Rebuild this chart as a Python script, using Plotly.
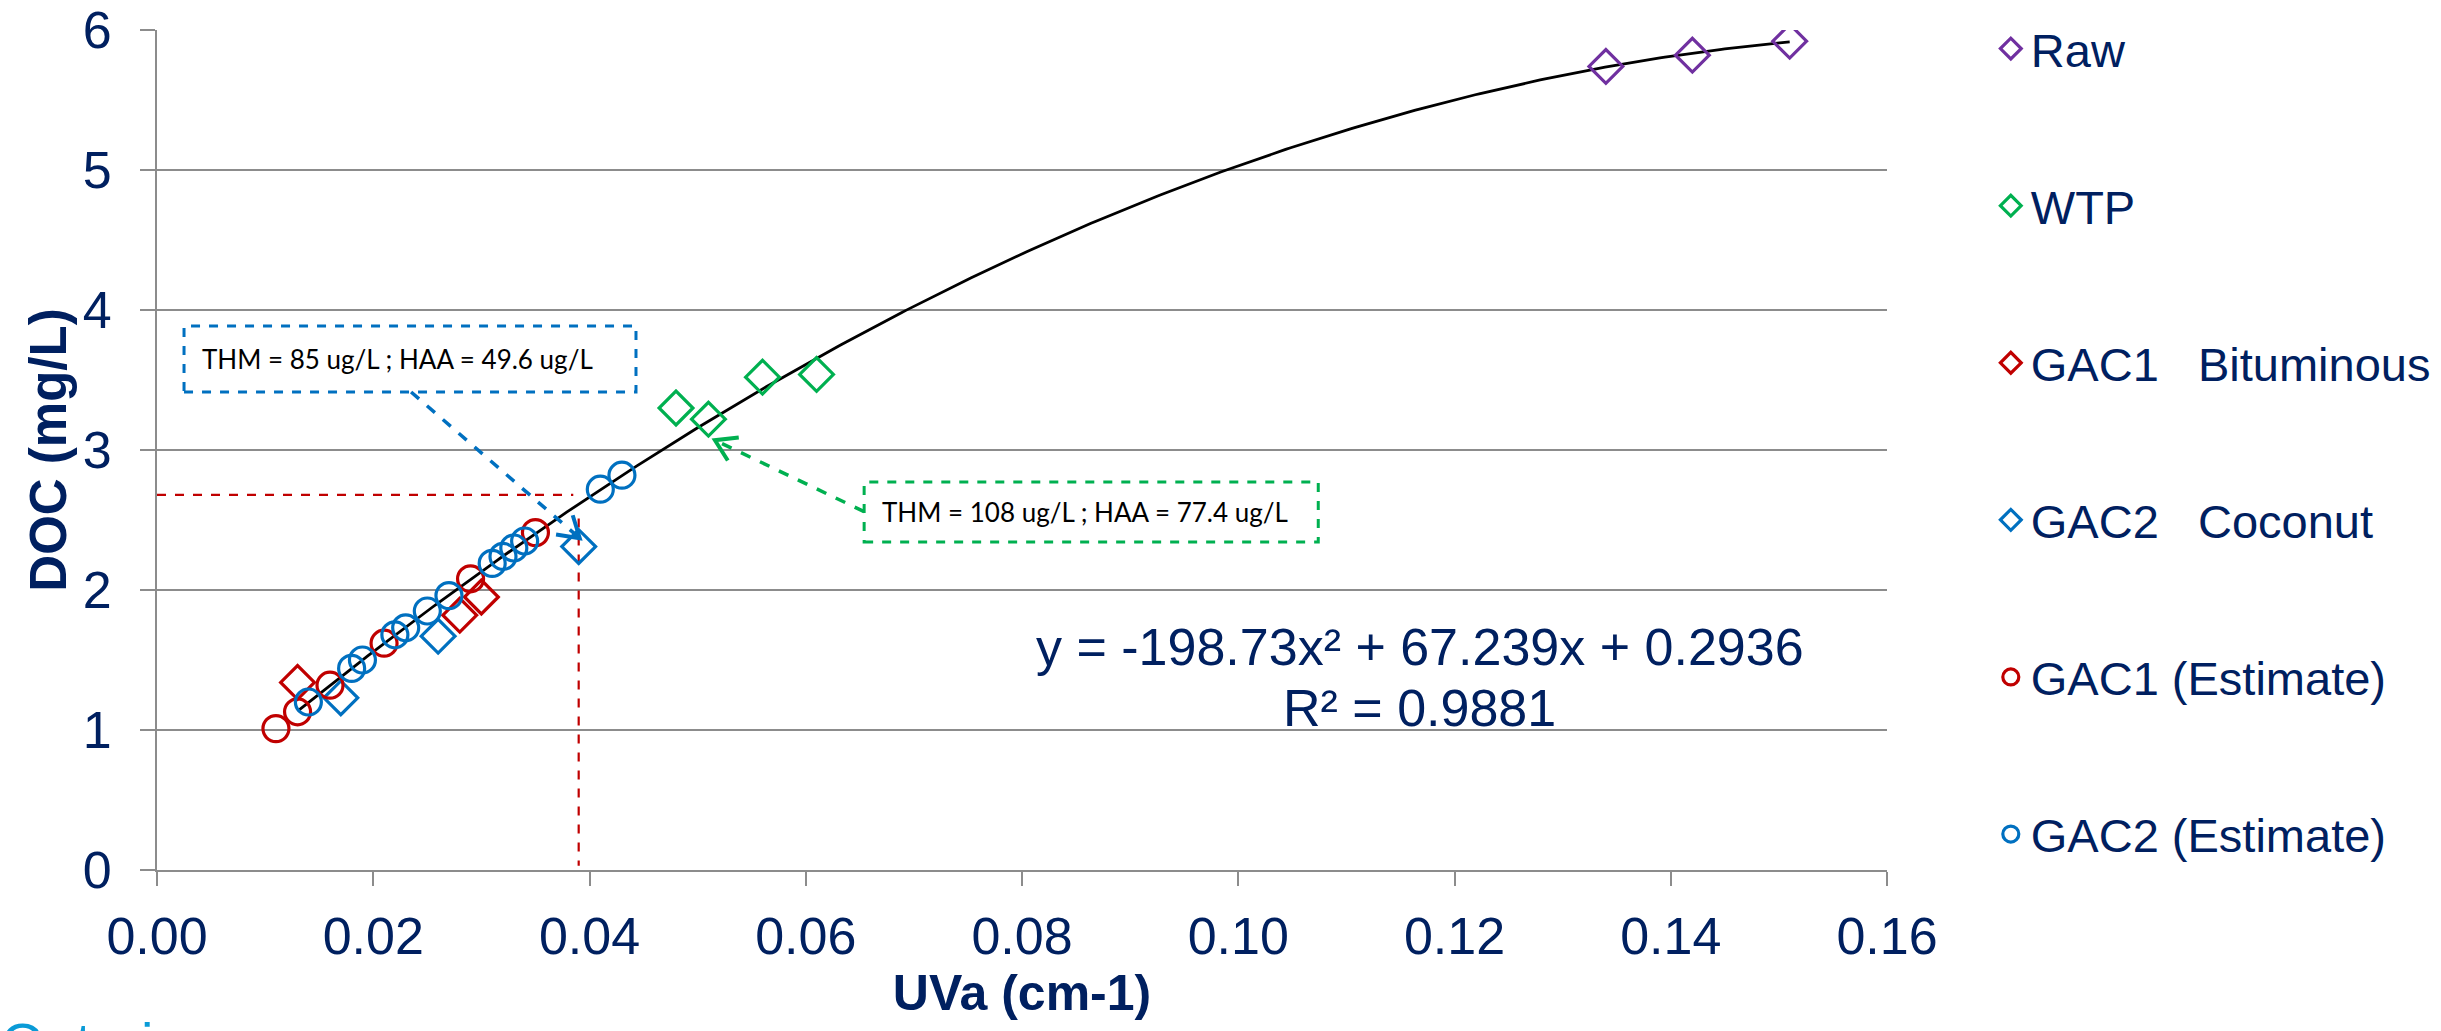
import math
import numpy as np
import plotly.graph_objects as go

# ---------------- data ----------------
raw_x = [0.134, 0.142, 0.151]
raw_y = [5.74, 5.82, 5.92]

wtp_x = [0.048, 0.051, 0.056, 0.061]
wtp_y = [3.30, 3.22, 3.52, 3.54]

gac1_bit_x = [0.013, 0.028, 0.030]
gac1_bit_y = [1.34, 1.82, 1.95]

gac2_coc_x = [0.017, 0.026, 0.039]
gac2_coc_y = [1.23, 1.67, 2.31]

gac1_est_x = [0.011, 0.013, 0.016, 0.021, 0.029, 0.035]
gac1_est_y = [1.01, 1.13, 1.32, 1.62, 2.08, 2.41]

gac2_est_x = [0.014, 0.018, 0.019, 0.022, 0.023, 0.025, 0.027,
              0.031, 0.032, 0.033, 0.034, 0.041, 0.043]
gac2_est_y = [1.20, 1.44, 1.50, 1.68, 1.73, 1.85, 1.96,
              2.19, 2.24, 2.30, 2.35, 2.72, 2.82]

# polynomial trendline shown on the chart
trend_coeffs = [-198.73, 67.239, 0.2936]
trend_range = [0.013, 0.151]
eq_text = "y = -198.73x² + 67.239x + 0.2936"
r2_text = "R² = 0.9881"

x_ticks = [0.00, 0.02, 0.04, 0.06, 0.08, 0.10, 0.12, 0.14, 0.16]
y_ticks = [0, 1, 2, 3, 4, 5, 6]
x_range = [0, 0.16]
y_range = [0, 6]

# callouts
ref_doc = 2.68          # horizontal red guide
ref_uva = 0.039         # vertical red guide
blue_note = "THM = 85 ug/L ; HAA = 49.6 ug/L"
green_note = "THM = 108 ug/L ; HAA = 77.4 ug/L"

# ---------------- styling ----------------
NAVY = "#002060"
PURPLE = "#7030A0"
GREEN = "#00B050"
RED = "#C00000"
BLUE = "#0070C0"
GRID = "#8C8C8C"
FONT = "Liberation Sans, Arial, sans-serif"
NOTE_FONT = "Lato, Open Sans, sans-serif"

W, H = 2441, 1031
ML, MR, MT, MB = 157, 554, 30, 161
px_per_x = (W - ML - MR) / (x_range[1] - x_range[0])
px_per_y = (H - MT - MB) / (y_range[1] - y_range[0])

fig = go.Figure()

# trendline
tx = np.linspace(trend_range[0], trend_range[1], 300)
ty = np.polyval(trend_coeffs, tx)
fig.add_trace(go.Scatter(x=tx, y=ty, mode="lines", line=dict(color="black", width=2.8),
                         showlegend=False, hoverinfo="skip"))

# guide lines (red dashed)
fig.add_trace(go.Scatter(x=[0, ref_uva - 0.0005], y=[ref_doc, ref_doc], mode="lines",
                         line=dict(color=RED, width=2.2, dash="dash"), showlegend=False, hoverinfo="skip"))
fig.add_trace(go.Scatter(x=[ref_uva, ref_uva], y=[2.51, 0.03], mode="lines",
                         line=dict(color=RED, width=2.2, dash="dash"), showlegend=False, hoverinfo="skip"))


# arrows: dashed shaft + open "V" head
def arrow(x0, y0, x1, y1, color, head_len=24, head_ang=32):
    fig.add_trace(go.Scatter(
        x=[x0, x1], y=[y0, y1], mode="lines",
        line=dict(color=color, width=3.5, dash="dash"),
        showlegend=False, hoverinfo="skip"))
    dxp = (x1 - x0) * px_per_x
    dyp = (y1 - y0) * px_per_y
    ang = math.atan2(dyp, dxp)
    hx, hy = [], []
    for s in (1, -1):
        a = ang + math.pi - s * math.radians(head_ang)
        hx.append(x1 + head_len * math.cos(a) / px_per_x)
        hy.append(y1 + head_len * math.sin(a) / px_per_y)
    fig.add_trace(go.Scatter(
        x=[hx[0], x1, hx[1]], y=[hy[0], y1, hy[1]], mode="lines",
        line=dict(color=color, width=4), showlegend=False, hoverinfo="skip"))


arrow(0.0235, 3.414, 0.0391, 2.37, BLUE)
arrow(0.0654, 2.56, 0.0516, 3.07, GREEN)


def series(x, y, name, color, symbol, size, group):
    fig.add_trace(go.Scatter(
        x=x, y=y, mode="markers", name=name, legendgroup=group,
        marker=dict(symbol=symbol, size=size, color=color,
                    line=dict(color=color, width=3.2))))


series(raw_x, raw_y, "Raw", PURPLE, "diamond-open", 26, "g1")
series(wtp_x, wtp_y, "WTP", GREEN, "diamond-open", 26, "g2")
series(gac1_bit_x, gac1_bit_y, "GAC1\u00a0\u00a0\u00a0Bituminous", RED, "diamond-open", 26, "g3")
series(gac2_coc_x, gac2_coc_y, "GAC2\u00a0\u00a0\u00a0Coconut", BLUE, "diamond-open", 26, "g4")
series(gac1_est_x, gac1_est_y, "GAC1 (Estimate)", RED, "circle-open", 26, "g5")
series(gac2_est_x, gac2_est_y, "GAC2 (Estimate)", BLUE, "circle-open", 26, "g6")

# callout boxes
fig.add_shape(type="rect", x0=0.0025, x1=0.0443, y0=3.414, y1=3.886,
              line=dict(color=BLUE, width=3, dash="dash"), fillcolor="rgba(0,0,0,0)")
fig.add_shape(type="rect", x0=0.0654, x1=0.1074, y0=2.343, y1=2.771,
              line=dict(color=GREEN, width=3, dash="dash"), fillcolor="rgba(0,0,0,0)")
fig.add_annotation(x=0.0222, y=(3.414 + 3.886) / 2, text=blue_note,
                   showarrow=False, font=dict(family=NOTE_FONT, size=26, color="black"))
fig.add_annotation(x=0.0858, y=(2.343 + 2.771) / 2, text=green_note,
                   showarrow=False, font=dict(family=NOTE_FONT, size=26, color="black"))

# equation
fig.add_annotation(x=0.1168, y=1.593, text=eq_text, showarrow=False,
                   font=dict(family=FONT, size=52, color=NAVY))
fig.add_annotation(x=0.1168, y=1.157, text=r2_text, showarrow=False,
                   font=dict(family=FONT, size=52, color=NAVY))

# cropped slide text at bottom-left
fig.add_annotation(xref="paper", yref="paper", x=-0.0915, y=-0.165, xanchor="left", yanchor="top",
                   text="Ontario", showarrow=False,
                   font=dict(family=FONT, size=56, color="#0A9BD7"))

fig.update_layout(
    width=W, height=H,
    margin=dict(l=ML, r=MR, t=MT, b=MB, autoexpand=False),
    plot_bgcolor="white", paper_bgcolor="white",
    font=dict(family=FONT, color=NAVY),
    legend=dict(x=1.060, y=1.022, xanchor="left", yanchor="top",
                font=dict(family=FONT, size=47, color=NAVY),
                tracegroupgap=93, bgcolor="rgba(0,0,0,0)", maxheight=1),
    xaxis=dict(range=x_range, tickvals=x_ticks, tickformat=".2f",
               showgrid=False, zeroline=False, showline=True, linecolor=GRID, linewidth=2,
               ticks="outside", ticklen=14, tickwidth=2, tickcolor=GRID,
               tickfont=dict(family=FONT, size=52, color=NAVY), ticklabelstandoff=6,
               title=dict(text="<b>UVa (cm-1)</b>", font=dict(family=FONT, size=50, color=NAVY),
                          standoff=10)),
    yaxis=dict(range=y_range, tickvals=y_ticks,
               showgrid=True, gridcolor=GRID, gridwidth=2, zeroline=False,
               showline=True, linecolor=GRID, linewidth=2,
               ticks="outside", ticklen=15, tickwidth=2, tickcolor=GRID,
               tickfont=dict(family=FONT, size=52, color=NAVY), ticklabelstandoff=18,
               title=dict(text="<b>DOC (mg/L)</b>", font=dict(family=FONT, size=51, color=NAVY),
                          standoff=0)),
)

fig.write_html("out.html", config={"displayModeBar": False},
               post_script="document.body.style.margin='0';")
